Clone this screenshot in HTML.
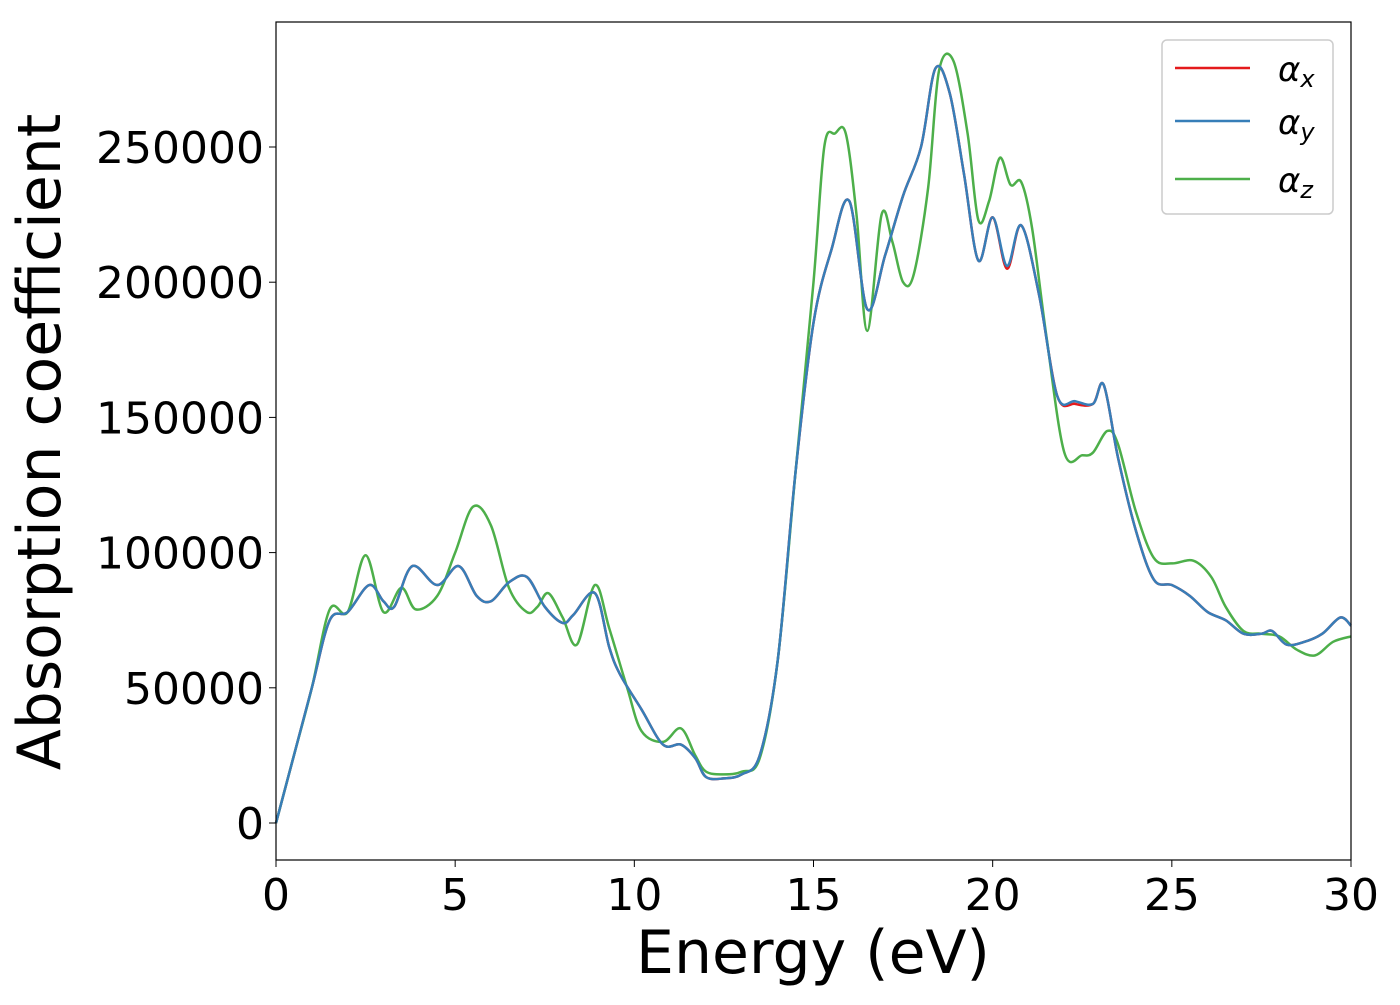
<!DOCTYPE html>
<html><head><meta charset="utf-8"><style>
body{margin:0;background:#fff;}
svg text{font-family:"DejaVu Sans","Liberation Sans",sans-serif;fill:#000;}
</style></head><body>
<svg id="chart" width="1400" height="1000" xmlns="http://www.w3.org/2000/svg">
<rect x="0" y="0" width="1400" height="1000" fill="#fff"/>
<g id="series"></g>
<rect x="276" y="22" width="1075" height="838" fill="none" stroke="#000" stroke-width="1.2"/>
<g id="xticks"></g><g id="yticks"></g>
<text x="813" y="973" font-size="60" text-anchor="middle">Energy (eV)</text>
<text transform="translate(60,442) rotate(-90)" font-size="60" text-anchor="middle">Absorption coefficient</text>
<g>
<rect x="1162" y="40" width="171" height="174" rx="5" fill="#fff" stroke="#ccc" stroke-width="1.5"/>
<line x1="1175" y1="68" x2="1250" y2="68" stroke="#e41a1c" stroke-width="2.5"/>
<line x1="1175" y1="121" x2="1250" y2="121" stroke="#377eb8" stroke-width="2.5"/>
<line x1="1175" y1="179" x2="1250" y2="179" stroke="#4daf4a" stroke-width="2.5"/>
<text x="1278" y="81" font-size="34" font-style="italic">α<tspan font-size="24" dy="6">x</tspan></text>
<text x="1278" y="134" font-size="34" font-style="italic">α<tspan font-size="24" dy="6">y</tspan></text>
<text x="1278" y="192" font-size="34" font-style="italic">α<tspan font-size="24" dy="6">z</tspan></text>
</g>
</svg>
<script>
const xTicks=[0,5,10,15,20,25,30];
const yTicks=[0,50000,100000,150000,200000,250000];
const eXY=[0,0.5,1,1.5,2,2.6,3,3.3,3.8,4.5,5.1,5.6,6,6.5,7,7.5,8,8.3,8.9,9.3,9.6,10.2,10.8,11.3,11.7,12,12.5,13,13.5,14,14.5,15,15.5,16,16.5,17,17.5,18,18.4,18.8,19.2,19.6,20,20.4,20.8,21.3,21.8,22.3,22.8,23.1,23.5,24,24.5,25,25.5,26,26.5,27,27.5,27.8,28.2,28.7,29.2,29.7,30];
const alphaX=[0,25000,50000,75000,78000,88000,82000,80000,95000,88000,95000,84000,82000,89000,91000,80000,74000,77000,85000,65000,55000,42000,29000,29000,24000,17000,16500,18000,25000,60000,130000,185000,212000,230000,190000,210000,232000,250000,279000,270000,240000,208000,224000,205000,221000,195000,158000,155000,155000,162000,135000,108000,90000,88000,84000,78000,75000,70000,70000,71000,66000,67000,70000,76000,73000];
const alphaY=[0,25000,50000,75000,78000,88000,82000,80000,95000,88000,95000,84000,82000,89000,91000,80000,74000,77000,85000,65000,55000,42000,29000,29000,24000,17000,16500,18000,25000,60000,130000,185000,212000,230000,190000,210000,232000,250000,279000,270000,240000,208000,224000,206000,221000,195000,158000,156000,155000,162000,135000,108000,90000,88000,84000,78000,75000,70000,70000,71000,66000,67000,70000,76000,73000];
const eZ=[0,0.5,1,1.5,2,2.5,3,3.5,3.9,4.5,5,5.5,6,6.5,7,7.3,7.6,8,8.4,8.9,9.3,9.8,10.2,10.8,11.3,11.7,12,12.5,13,13.5,14,14.5,15,15.3,15.6,15.9,16.2,16.5,16.9,17.2,17.5,17.8,18.2,18.5,18.9,19.3,19.6,19.9,20.2,20.5,20.8,21.1,21.5,22,22.5,22.8,23.2,23.5,24,24.5,25,25.6,26.1,26.5,27,27.5,28,28.5,29,29.5,30];
const alphaZ=[0,25000,50000,79000,78000,99000,78000,87000,79000,84000,100000,117000,110000,87000,78000,80000,85000,76000,66000,88000,72000,50000,34000,30000,35000,25000,19000,18000,19000,24000,60000,130000,200000,250000,255000,255000,225000,182000,225000,215000,200000,203000,235000,278000,282000,255000,223000,230000,246000,236000,237000,220000,180000,137000,136000,137000,145000,140000,115000,98000,96000,97000,91000,80000,71000,70000,69000,64000,62000,67000,69000];
const X0=276,X1=1351,Y0=823,Y1=147;
const sx=v=>X0+(v-0)/(30-0)*(X1-X0);
const sy=v=>Y0+(v-0)/(250000-0)*(Y1-Y0);
const NS="http://www.w3.org/2000/svg";
function pathFor(xs,ys){
  const p=xs.map((x,i)=>[sx(x),sy(ys[i])]);
  let d="M"+p[0][0]+","+p[0][1];
  for(let i=0;i<p.length-1;i++){
    const a=p[Math.max(0,i-1)],b=p[i],c=p[i+1],e=p[Math.min(p.length-1,i+2)];
    const c1=[b[0]+(c[0]-a[0])/6,b[1]+(c[1]-a[1])/6],c2=[c[0]-(e[0]-b[0])/6,c[1]-(e[1]-b[1])/6];
    d+=" C"+c1+" "+c2+" "+c;
  }
  return d;
}
const g=document.getElementById("series");
[[eXY,alphaX,"#e41a1c","series-alpha-x"],[eZ,alphaZ,"#4daf4a","series-alpha-z"],[eXY,alphaY,"#377eb8","series-alpha-y"]].forEach(s=>{
  const el=document.createElementNS(NS,"path");
  el.setAttribute("d",pathFor(s[0],s[1]));
  el.setAttribute("fill","none");el.setAttribute("stroke",s[2]);el.setAttribute("stroke-width","2.5");
  
  
  g.appendChild(el);
});
const xg=document.getElementById("xticks");
xTicks.forEach(t=>{
  const l=document.createElementNS(NS,"line");
  l.setAttribute("x1",sx(t));l.setAttribute("x2",sx(t));l.setAttribute("y1",860);l.setAttribute("y2",867);l.setAttribute("stroke","#000");
  
  
  xg.appendChild(l);
  const tx=document.createElementNS(NS,"text");
  tx.setAttribute("x",sx(t));tx.setAttribute("y",910);tx.setAttribute("font-size","44");tx.setAttribute("text-anchor","middle");
  tx.textContent=t;
  
  
  xg.appendChild(tx);
});
const yg=document.getElementById("yticks");
yTicks.forEach(t=>{
  const l=document.createElementNS(NS,"line");
  l.setAttribute("x1",269);l.setAttribute("x2",276);l.setAttribute("y1",sy(t));l.setAttribute("y2",sy(t));l.setAttribute("stroke","#000");
  
  
  yg.appendChild(l);
  const tx=document.createElementNS(NS,"text");
  tx.setAttribute("x",264);tx.setAttribute("y",sy(t)+16);tx.setAttribute("font-size","44");tx.setAttribute("text-anchor","end");
  tx.textContent=t;
  
  
  yg.appendChild(tx);
});
</script>
</body></html>
